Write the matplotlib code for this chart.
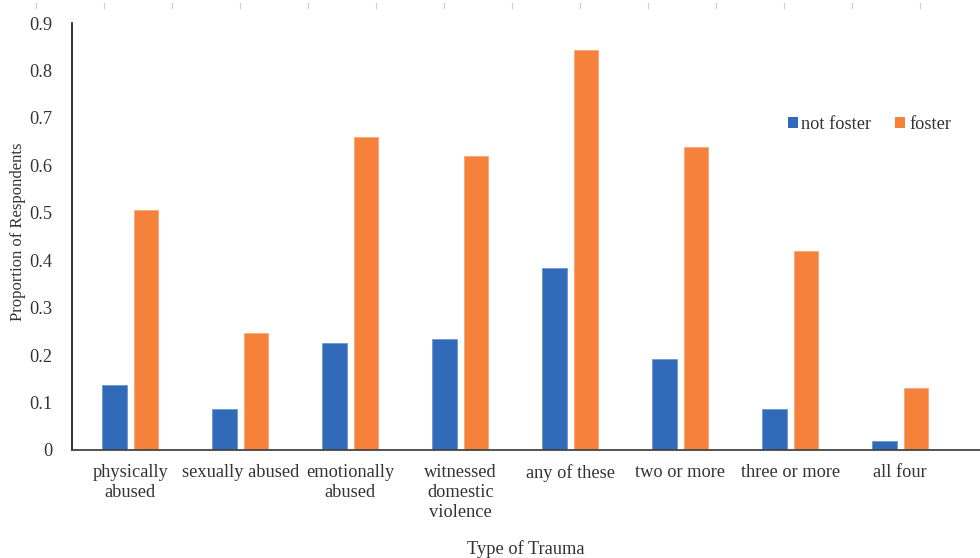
import numpy as np
import matplotlib
matplotlib.use('Agg')
import matplotlib.pyplot as plt
from matplotlib.patches import Patch

# data
categories = ['physically\nabused', 'sexually abused', 'emotionally\nabused',
              'witnessed\ndomestic\nviolence', 'any of these', 'two or more',
              'three or more', 'all four']
not_foster = [0.137, 0.086, 0.225, 0.234, 0.384, 0.192, 0.086, 0.019]
foster = [0.506, 0.247, 0.660, 0.620, 0.843, 0.639, 0.419, 0.131]
y_ticks = [0, 0.1, 0.2, 0.3, 0.4, 0.5, 0.6, 0.7, 0.8, 0.9]
y_tick_labels = ['0', '0.1', '0.2', '0.3', '0.4', '0.5', '0.6', '0.7', '0.8', '0.9']

BLUE = '#316AB9'
ORANGE = '#F5813A'
TEXT = '#333333'
BAR_W = 0.225
OFFSET = 0.142

plt.rcParams['font.family'] = ['Liberation Serif', 'DejaVu Serif']
plt.rcParams['font.size'] = 13.2

fig = plt.figure(figsize=(9.8, 5.58), dpi=100)
ax = fig.add_axes([72 / 980, 108 / 558, 908 / 980, 427 / 558])

x = np.arange(len(categories))
ax.bar(x - OFFSET, not_foster, BAR_W, color=BLUE, edgecolor='#6f95d0', linewidth=0.6)
ax.bar(x + OFFSET, foster, BAR_W, color=ORANGE, edgecolor='#f9a774', linewidth=0.6)

ax.set_xlim(-0.53, -0.53 + 908 / 110)
ax.set_ylim(0, 0.9)
ax.set_yticks(y_ticks)
ax.set_yticklabels(y_tick_labels, color=TEXT)
ax.set_xticks(x)
ax.set_xticklabels(categories, color=TEXT, linespacing=1.25, va='top')
ax.tick_params(axis='both', length=0)
ax.tick_params(axis='y', pad=14)
ax.tick_params(axis='x', pad=10)

for side in ['top', 'right']:
    ax.spines[side].set_visible(False)
ax.spines['left'].set_color('#222222')
ax.spines['bottom'].set_color('#444444')
ax.spines['left'].set_linewidth(1.3)
ax.spines['bottom'].set_linewidth(1.3)

ax.set_ylabel('Proportion of Respondents', color=TEXT, fontsize=12)
ax.yaxis.set_label_coords(-0.051, 0.51)
ax.set_xlabel('Type of Trauma', color=TEXT, fontsize=13.2)
ax.xaxis.set_label_coords(0.5, -0.212)

handles = [Patch(facecolor=BLUE, label='not foster'),
           Patch(facecolor=ORANGE, label='foster')]
leg = ax.legend(handles=handles, ncol=2, frameon=False, loc='center',
                bbox_to_anchor=(0.878, 0.763), handlelength=0.55, handleheight=0.55,
                handletextpad=0.2, columnspacing=1.3)
for t in leg.get_texts():
    t.set_color(TEXT)

# faint ruler marks along the top edge of the page
for px in range(36, 980, 68):
    fig.add_artist(plt.Line2D([px / 980, px / 980], [1 - 3 / 558, 1 - 8 / 558],
                              color='#cccccc', linewidth=0.8))

fig.savefig('out.png', dpi=100)
